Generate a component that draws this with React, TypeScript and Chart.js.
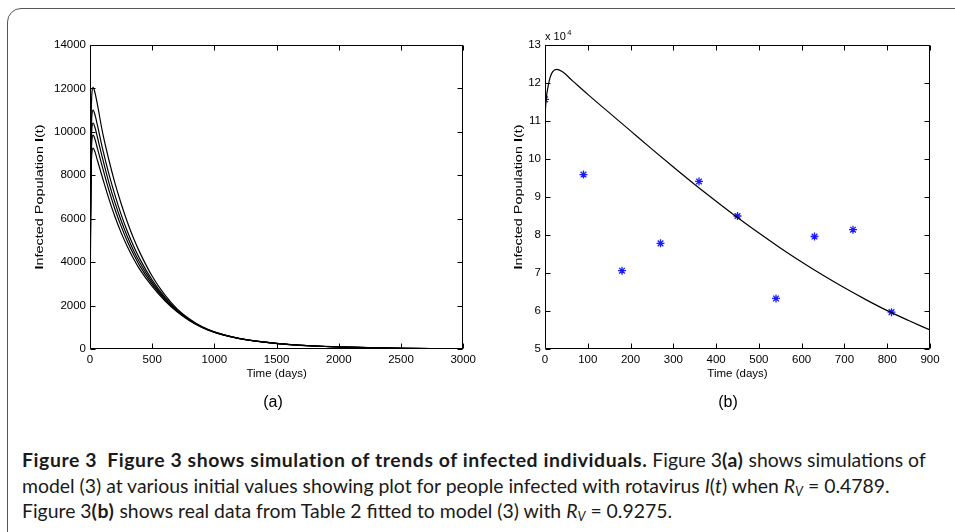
import React, { useEffect, useRef } from 'react';
import { Chart, registerables } from 'chart.js';
Chart.register(...registerables);

// ---------- Data: panel (a) ----------
const timeA = [0, 5, 10, 15, 25, 40, 60, 100, 150, 200, 250, 300, 350, 400, 500, 600, 700, 800, 900, 1000, 1200, 1400, 1600, 1800, 2000, 2250, 2500, 2750, 3000];
const infectedA1 = [2000, 7800, 10800, 11750, 12050, 11800, 11250, 10000, 8750, 7650, 6700, 5850, 5100, 4450, 3350, 2500, 1850, 1380, 1030, 790, 490, 320, 210, 140, 95, 60, 35, 20, 10];
const infectedA2 = [1600, 7000, 9800, 10750, 11000, 10780, 10300, 9250, 8100, 7100, 6200, 5420, 4740, 4150, 3170, 2400, 1800, 1350, 1015, 780, 485, 318, 208, 139, 94, 60, 35, 20, 10];
const infectedA3 = [1200, 6600, 9300, 10150, 10400, 10200, 9740, 8800, 7700, 6750, 5920, 5180, 4540, 3980, 3070, 2340, 1770, 1335, 1005, 775, 482, 316, 207, 138, 93, 59, 35, 20, 10];
const infectedA4 = [800, 6200, 8800, 9600, 9850, 9660, 9230, 8380, 7350, 6450, 5660, 4960, 4360, 3830, 2980, 2290, 1740, 1320, 1000, 770, 480, 315, 206, 137, 93, 59, 35, 20, 10];
const infectedA5 = [400, 5700, 8300, 9020, 9250, 9080, 8680, 7900, 6950, 6100, 5360, 4720, 4160, 3670, 2880, 2230, 1710, 1305, 995, 765, 478, 314, 205, 137, 92, 59, 35, 20, 10];
const xTicksA = [0, 500, 1000, 1500, 2000, 2500, 3000];
const yTicksA = [0, 2000, 4000, 6000, 8000, 10000, 12000, 14000];

// ---------- Data: panel (b) (units of 10^4) ----------
const timeB = [0, 3, 7, 12, 18, 27, 40, 65, 100, 150, 200, 250, 300, 350, 400, 450, 500, 550, 600, 650, 700, 750, 800, 850, 900];
const fittedB = [11.15, 11.6, 11.9, 12.15, 12.3, 12.36, 12.3, 12.05, 11.7, 11.22, 10.74, 10.26, 9.79, 9.33, 8.89, 8.46, 8.05, 7.66, 7.29, 6.94, 6.61, 6.3, 6.01, 5.75, 5.5];
const obsTimeB = [0, 90, 180, 270, 360, 450, 540, 630, 720, 810];
const observedB = [11.57, 9.59, 7.06, 7.78, 9.41, 8.5, 6.33, 7.96, 8.14, 5.97];
const xTicksB = [0, 100, 200, 300, 400, 500, 600, 700, 800, 900];
const yTicksB = [5, 6, 7, 8, 9, 10, 11, 12, 13];

const FONT = '"Liberation Sans", Arial, Helvetica, sans-serif';
const TICK_SIZE = 11.5;

const toXY = (xs: number[], ys: number[]) => xs.map((x, i) => ({ x, y: ys[i] }));

function framePlugin(opts: { yTitleX: number; exponent?: boolean }) {
  return {
    id: 'matlabFrame',
    afterDraw(chart: any) {
      const { ctx, chartArea: a, scales } = chart;
      const x = scales.x;
      const y = scales.y;
      ctx.save();
      ctx.strokeStyle = '#000';
      ctx.lineWidth = 1;
      const L = Math.round(a.left) + 0.5;
      const R = Math.round(a.right) - 0.5;
      const T = Math.round(a.top) + 0.5;
      const B = Math.round(a.bottom) - 0.5;
      ctx.beginPath();
      ctx.rect(L, T, R - L, B - T);
      ctx.stroke();
      const tl = 5;
      ctx.beginPath();
      x.ticks.forEach((t: any) => {
        const p = Math.round(x.getPixelForValue(t.value)) + 0.5;
        ctx.moveTo(p, B);
        ctx.lineTo(p, B - tl);
        ctx.moveTo(p, T);
        ctx.lineTo(p, T + tl);
      });
      y.ticks.forEach((t: any) => {
        const p = Math.round(y.getPixelForValue(t.value)) + 0.5;
        ctx.moveTo(L, p);
        ctx.lineTo(L + tl, p);
        ctx.moveTo(R, p);
        ctx.lineTo(R - tl, p);
      });
      ctx.stroke();

      // x title
      ctx.fillStyle = '#000';
      ctx.font = `${TICK_SIZE}px ${FONT}`;
      ctx.textAlign = 'center';
      ctx.textBaseline = 'middle';
      ctx.fillText('Time (days)', (a.left + a.right) / 2, a.bottom + 25);

      // y title with bold "I"s, stretched along its length
      const segs = [
        { t: 'I', b: true },
        { t: 'nfected Population ', b: false },
        { t: 'I', b: true },
        { t: '(t)', b: false },
      ];
      const fontOf = (b: boolean) => `${b ? 'bold ' : ''}${TICK_SIZE}px ${FONT}`;
      let total = 0;
      segs.forEach((s) => {
        ctx.font = fontOf(s.b);
        total += ctx.measureText(s.t).width;
      });
      const targetLen = 145;
      ctx.translate(opts.yTitleX, (a.top + a.bottom) / 2);
      ctx.rotate(-Math.PI / 2);
      ctx.scale(targetLen / total, 1);
      ctx.textAlign = 'left';
      let cx = -total / 2;
      segs.forEach((s) => {
        ctx.font = fontOf(s.b);
        ctx.fillText(s.t, cx, 0);
        cx += ctx.measureText(s.t).width;
      });
      ctx.setTransform(1, 0, 0, 1, 0, 0);

      if (opts.exponent) {
        ctx.font = `11px ${FONT}`;
        ctx.textAlign = 'left';
        ctx.textBaseline = 'alphabetic';
        const base = 'x 10';
        ctx.fillText(base, a.left, a.top - 5);
        const w = ctx.measureText(base).width;
        ctx.font = `7.5px ${FONT}`;
        ctx.fillText('4', a.left + w + 1.5, a.top - 10);
      }
      ctx.restore();
    },
  };
}

function makeScales(xTicks: number[], yTicks: number[], yWidth: number) {
  const tickFont = { family: FONT, size: TICK_SIZE };
  return {
    x: {
      type: 'linear' as const,
      min: xTicks[0],
      max: xTicks[xTicks.length - 1],
      grid: { display: false, drawTicks: false },
      border: { display: false },
      afterBuildTicks: (s: any) => {
        s.ticks = xTicks.map((v) => ({ value: v }));
      },
      afterFit: (s: any) => {
        s.height = 51;
      },
      ticks: {
        autoSkip: false,
        maxRotation: 0,
        padding: 4,
        color: '#000',
        font: tickFont,
        callback: (v: any) => String(v),
      },
    },
    y: {
      type: 'linear' as const,
      min: yTicks[0],
      max: yTicks[yTicks.length - 1],
      grid: { display: false, drawTicks: false },
      border: { display: false },
      afterBuildTicks: (s: any) => {
        s.ticks = yTicks.map((v) => ({ value: v }));
      },
      afterFit: (s: any) => {
        s.width = yWidth;
      },
      ticks: {
        autoSkip: false,
        padding: 4,
        color: '#000',
        font: tickFont,
        callback: (v: any) => String(v),
      },
    },
  };
}

function PanelA() {
  const ref = useRef<HTMLCanvasElement>(null);
  useEffect(() => {
    const series = [infectedA1, infectedA2, infectedA3, infectedA4, infectedA5];
    const chart = new Chart(ref.current!, {
      type: 'scatter',
      data: {
        datasets: series.map((s) => ({
          data: toXY(timeA, s),
          showLine: true,
          borderColor: '#000',
          borderWidth: 1.2,
          pointRadius: 0,
          cubicInterpolationMode: 'monotone' as const,
          fill: false,
        })),
      },
      options: {
        animation: false,
        responsive: false,
        maintainAspectRatio: false,
        layout: { padding: { top: 45, right: 6, left: 0, bottom: 0 } },
        plugins: { legend: { display: false }, tooltip: { enabled: false } },
        scales: makeScales(xTicksA, yTicksA, 90) as any,
      },
      plugins: [framePlugin({ yTitleX: 40 })],
    });
    return () => chart.destroy();
  }, []);
  return <canvas ref={ref} width={480} height={400} style={{ position: 'absolute', left: 0, top: 0, width: 480, height: 400 }} />;
}

function PanelB() {
  const ref = useRef<HTMLCanvasElement>(null);
  useEffect(() => {
    const chart = new Chart(ref.current!, {
      type: 'scatter',
      data: {
        datasets: [
          {
            data: toXY(timeB, fittedB),
            showLine: true,
            borderColor: '#000',
            borderWidth: 1.2,
            pointRadius: 0,
            cubicInterpolationMode: 'monotone' as const,
            fill: false,
          },
          {
            data: toXY(obsTimeB, observedB),
            showLine: false,
            pointStyle: 'star',
            pointRadius: 4,
            borderColor: '#1a1aff',
            backgroundColor: '#1a1aff',
            borderWidth: 1.3,
          },
        ],
      },
      options: {
        animation: false,
        responsive: false,
        maintainAspectRatio: false,
        layout: { padding: { top: 45, right: 25, left: 0, bottom: 0 } },
        plugins: { legend: { display: false }, tooltip: { enabled: false } },
        scales: makeScales(xTicksB, yTicksB, 65) as any,
      },
      plugins: [framePlugin({ yTitleX: 39, exponent: true })],
    });
    return () => chart.destroy();
  }, []);
  return <canvas ref={ref} width={475} height={400} style={{ position: 'absolute', left: 480, top: 0, width: 475, height: 400 }} />;
}

const capFont = 'Lato, "Open Sans", sans-serif';

export default function App() {
  const Rv = (
    <i>
      R<sub style={{ fontSize: '0.65em', verticalAlign: '-0.25em' }}>V</sub>
    </i>
  );
  const lineStyle: React.CSSProperties = {
    position: 'absolute',
    left: 22,
    whiteSpace: 'nowrap',
    fontFamily: capFont,
    fontSize: 19.4,
    lineHeight: '24px',
    color: '#1a1a1a',
  };
  const bold: React.CSSProperties = { fontWeight: 700, letterSpacing: 0.6 };
  return (
    <div style={{ position: 'fixed', left: 0, top: 0, width: 955, height: 532, background: '#fff', overflow: 'hidden' }}>
      <div
        style={{
          position: 'absolute',
          left: 7,
          top: 8,
          width: 1000,
          height: 600,
          border: '1.5px solid #555',
          borderRadius: 14,
          boxSizing: 'border-box',
        }}
      />
      <PanelA />
      <PanelB />
      <div style={{ position: 'absolute', left: 253, top: 393, width: 40, textAlign: 'center', fontFamily: FONT, fontSize: 16, lineHeight: '18px' }}>(a)</div>
      <div style={{ position: 'absolute', left: 708, top: 393, width: 40, textAlign: 'center', fontFamily: FONT, fontSize: 16, lineHeight: '18px' }}>(b)</div>
      <div style={{ ...lineStyle, top: 448 }}>
        <span style={bold}>Figure 3</span>
        <span style={{ display: 'inline-block', width: 10 }} />
        <span style={bold}>Figure 3 shows simulation of trends of infected individuals.</span> Figure 3<span style={bold}>(a)</span> shows simulations of
      </div>
      <div style={{ ...lineStyle, top: 474 }}>
        model (3) at various initial values showing plot for people infected with rotavirus <i>I</i>(<i>t</i>) when {Rv} = 0.4789.
      </div>
      <div style={{ ...lineStyle, top: 499 }}>
        Figure 3<span style={bold}>(b)</span> shows real data from Table 2 fitted to model (3) with {Rv} = 0.9275.
      </div>
    </div>
  );
}
